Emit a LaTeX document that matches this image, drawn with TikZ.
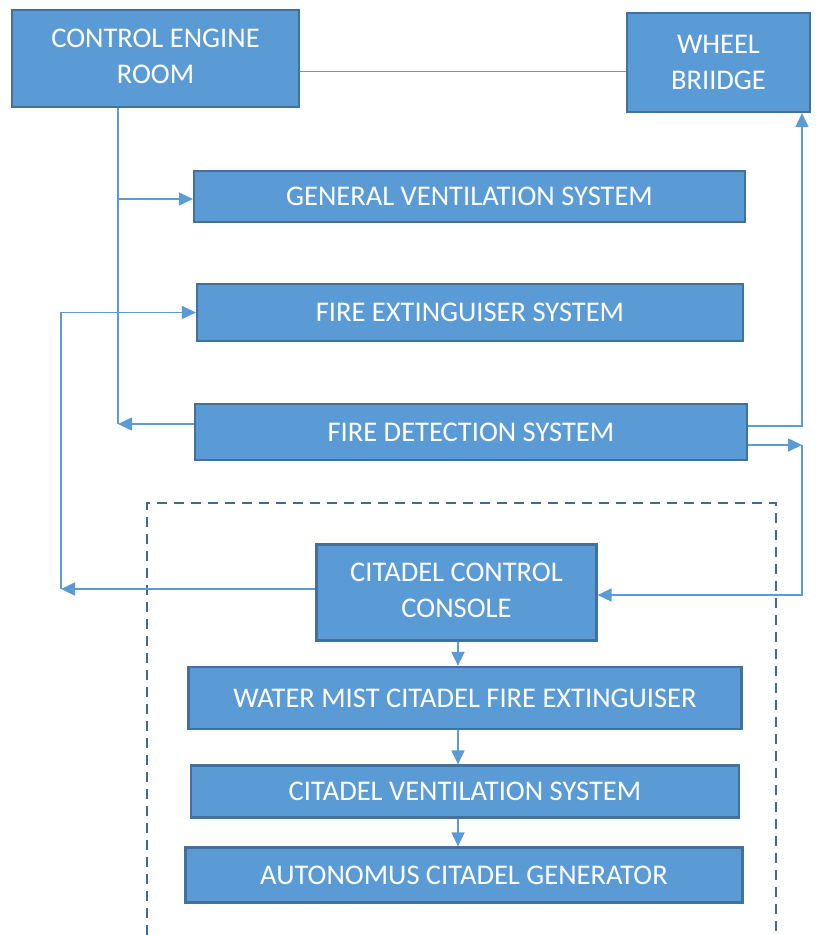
\documentclass[tikz,border=0pt]{standalone}
\usepackage{fontspec}
\setmainfont{Carlito}
\usetikzlibrary{arrows.meta}
\definecolor{boxfill}{HTML}{5B9BD5}
\definecolor{boxedge}{HTML}{41719C}
\definecolor{linecol}{HTML}{5B9BD5}
\definecolor{dashcol}{HTML}{3B6C98}
\begin{document}
\begin{tikzpicture}[x=1pt,y=-1pt,
  blk/.style={draw=boxedge, line width=2.2pt, fill=boxfill, text=white,
    font=\fontsize{28.5}{36.5}\selectfont, align=center, inner sep=0pt},
  conn/.style={draw=linecol, line width=1.7pt},
  arr/.style={conn, -{Triangle[length=14pt,width=13pt]}}]
\useasboundingbox (0,0) rectangle (822,935);
% dashed citadel frame (open at the bottom)
\draw[dashcol, line width=2.4pt, dash pattern=on 10pt off 7pt]
  (147,935) -- (147,503) -- (776,503) -- (776,935);
% boxes
\node[blk, minimum width=287pt, minimum height=97pt] (CER) at (155.5,58.5) {CONTROL ENGINE\\ROOM\vphantom{g}};
\node[blk, minimum width=183pt, minimum height=99pt] (WB) at (718.5,62.5) {WHEEL\\BRIIDGE};
\node[blk, minimum width=551pt, minimum height=51pt] (GVS) at (469.5,196.5) {GENERAL VENTILATION SYSTEM};
\node[blk, minimum width=546pt, minimum height=57pt] (FES) at (470,312.5) {FIRE EXTINGUISER SYSTEM};
\node[blk, minimum width=552pt, minimum height=56pt] (FDS) at (471,432) {FIRE DETECTION SYSTEM};
\node[blk, minimum width=280pt, minimum height=96pt] (CCC) at (456.5,592.5) {CITADEL CONTROL\\CONSOLE\vphantom{g}};
\node[blk, minimum width=553pt, minimum height=62pt] (WMC) at (465,698) {WATER MIST CITADEL FIRE EXTINGUISER};
\node[blk, minimum width=548pt, minimum height=52pt] (CVS) at (465,791.5) {CITADEL VENTILATION SYSTEM};
\node[blk, minimum width=557pt, minimum height=55pt] (ACG) at (464,875) {AUTONOMUS CITADEL GENERATOR};
% connectors
\draw[conn] ([yshift=-13pt]CER.east) -- ([yshift=-9pt]WB.west);
\coordinate (j1) at (118,199);
\coordinate (j2) at (118,424);
\draw[conn] (CER.south -| j1) -- (j2);
\draw[arr] (j1) -- (GVS.west |- j1);
\draw[arr] (FDS.west |- j2) -- (j2);
\coordinate (j3) at (61,589);
\draw[arr] (CCC.west |- j3) -- (j3);
\draw[arr] (j3) |- (FES.west);
\coordinate (j4) at (802,426);
\draw[arr] (FDS.east |- j4) -- (j4) -- (WB.south -| j4);
\coordinate (j5) at (802,445);
\coordinate (j6) at (802,595);
\draw[arr] (FDS.east |- j5) -- (j5);
\draw[arr] (j5) -- (j6) -- (CCC.east |- j6);
\coordinate (vc) at (458,0);
\draw[arr] (CCC.south -| vc) -- (WMC.north -| vc);
\draw[arr] (WMC.south -| vc) -- (CVS.north -| vc);
\draw[arr] (CVS.south -| vc) -- (ACG.north -| vc);
\end{tikzpicture}
\end{document}
